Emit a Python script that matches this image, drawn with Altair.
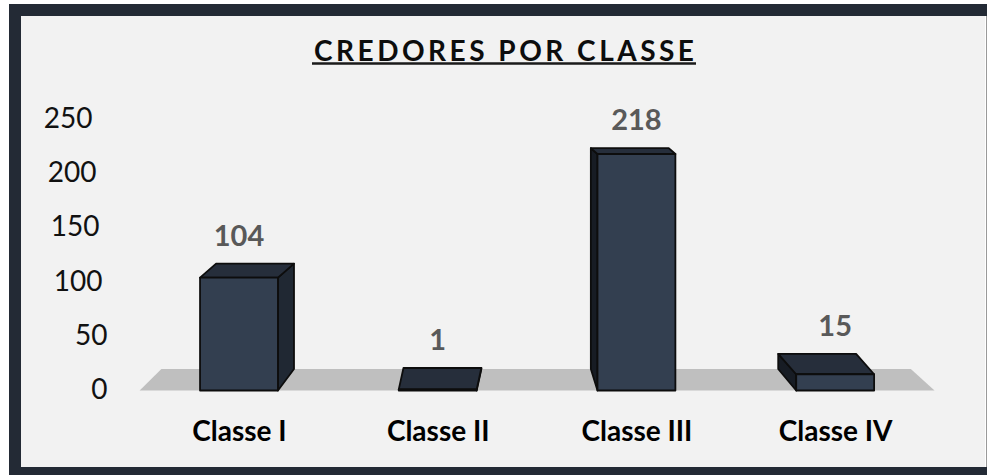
import json
import altair as alt
import pandas as pd

# ---------------- data ----------------
categories = ["Classe I", "Classe II", "Classe III", "Classe IV"]
values = [104, 1, 218, 15]
y_ticks = [0, 50, 100, 150, 200, 250]
title_text = "CREDORES POR CLASSE"

# ---------------- style constants (3D look) ----------------
HALF_W = 0.196          # half bar width in category units
VANISH_U = 1.914        # horizontal vanishing point (category units)
DX_K = -0.0571          # horizontal depth factor
DY_K = 0.066            # vertical depth factor
DY_REF = 300.0

FRONT = "#333F50"
TOP = "#262E3B"
SIDE_R = "#202833"
SIDE_L = "#171C24"
EDGE = "#0D0D0D"
FRAME = "#232A35"


def slices(poly):
    xs = sorted(set(round(p[0], 9) for p in poly))
    rows = []
    n = len(poly)
    for x in xs:
        ys = []
        for k in range(n):
            (x1, y1), (x2, y2) = poly[k], poly[(k + 1) % n]
            if abs(x1 - x2) < 1e-9:
                if abs(x - x1) < 1e-7:
                    ys += [y1, y2]
            elif min(x1, x2) - 1e-7 <= x <= max(x1, x2) + 1e-7:
                t = (x - x1) / (x2 - x1)
                ys.append(y1 + t * (y2 - y1))
        rows.append((x, min(ys), max(ys)))
    return rows


face_rows = {"side": [], "top": [], "front": []}
label_rows = []
for i, (cat, v) in enumerate(zip(categories, values)):
    c = i + 0.5
    xl, xr = c - HALF_W, c + HALF_W
    dx = DX_K * (c - VANISH_U)
    dyv = DY_K * (DY_REF - v)
    dy0 = DY_K * DY_REF
    top = [(xl, v), (xr, v), (xr + dx, v + dyv), (xl + dx, v + dyv)]
    if dx > 0:
        side = [(xr, 0), (xr, v), (xr + dx, v + dyv), (xr + dx, dy0)]
        sshade = "side_r"
    else:
        side = [(xl, 0), (xl, v), (xl + dx, v + dyv), (xl + dx, dy0)]
        sshade = "side_l"
    front = [(xl, 0), (xr, 0), (xr, v), (xl, v)]
    for name, poly, shade in (("side", side, sshade), ("top", top, "top"), ("front", front, "front")):
        for x, y0, y1 in slices(poly):
            face_rows[name].append({"key": f"{name}{i}", "shade": shade, "x": x, "y0": y0, "y1": y1})
    label_rows.append({"cat": cat, "value": v, "x": c, "y0": v + dyv, "label": str(v)})

n = len(categories)
dy0 = DY_K * DY_REF
floor_poly = [(0, 0), (n, 0), (n + DX_K * (n - VANISH_U), dy0), (DX_K * (0 - VANISH_U), dy0)]
floor_df = pd.DataFrame([{"key": "floor", "x": x, "y0": a, "y1": b} for x, a, b in slices(floor_poly)])
side_df = pd.DataFrame(face_rows["side"])
top_df = pd.DataFrame(face_rows["top"])
front_df = pd.DataFrame(face_rows["front"])
label_df = pd.DataFrame(label_rows)

shade_scale = alt.Scale(domain=["front", "top", "side_r", "side_l"], range=[FRONT, TOP, SIDE_R, SIDE_L])

x_scale = alt.Scale(domain=[-0.597, 4.254], nice=False, zero=False)
y_scale = alt.Scale(domain=[-70.5, 345.2], nice=False, zero=False)

label_expr = json.dumps(categories) + "[floor(datum.value)]"

x_axis = alt.Axis(values=[i + 0.5 for i in range(n)], labelExpr=label_expr, orient="bottom",
                  offset=-55, ticks=False, domain=False, grid=False, labelPadding=20,
                  labelFontSize=28, labelFont="Lato", labelFontWeight="bold", labelColor="#000000",
                  labelBaseline="middle", labelFlush=False, labelOverlap=False, title=None)

# perspective stagger of the value-axis labels
y_label_padding = {
    "condition": [
        {"test": "datum.value >= 250", "value": 15},
        {"test": "datum.value >= 200", "value": 11},
        {"test": "datum.value >= 150", "value": 8},
        {"test": "datum.value >= 100", "value": 5},
    ],
    "value": 0,
}
y_axis = alt.Axis(values=y_ticks, orient="left", offset=-86, ticks=False, domain=False, grid=False,
                  labelPadding=y_label_padding, labelFontSize=28, labelFont="Lato", labelColor="#111111",
                  labelAlign="right", labelBaseline="middle", labelFlush=False, labelOverlap=False,
                  title=None)

X = alt.X("x:Q", scale=x_scale, axis=x_axis)
Y = alt.Y("y0:Q", scale=y_scale, axis=y_axis)

floor = alt.Chart(floor_df).mark_area(color="#BFBFBF").encode(x=X, y=Y, y2="y1:Q")


def faces(df):
    return alt.Chart(df).mark_area(stroke=EDGE, strokeWidth=1.8, strokeJoin="round").encode(
        x=X, y=Y, y2="y1:Q",
        detail="key:N",
        fill=alt.Fill("shade:N", scale=shade_scale, legend=None),
    )


labels = alt.Chart(label_df).mark_text(
    font="Lato", fontSize=29, fontWeight="bold", color="#595959", baseline="middle", dy=-27
).encode(x=X, y=Y, text="label:N")

one = pd.DataFrame({"k": [0]})
spaced_title = "\u2009".join(list(title_text))
title_mark = alt.Chart(one).mark_text(
    font="Lato", fontSize=28, fontWeight="bold", color="#0D0D0D", baseline="alphabetic", align="center"
).encode(x=alt.value(483), y=alt.value(45), text=alt.value(spaced_title))

underline = alt.Chart(one).mark_rule(color="#1A1A1A", strokeWidth=2.5).encode(
    x=alt.value(291), x2=alt.value(675), y=alt.value(47.5)
)

# decorative outer frame (left, top, bottom) and thin right edge
frame_left = alt.Chart(one).mark_rule(color=FRAME, strokeWidth=12).encode(
    x=alt.value(-6), y=alt.value(-12), y2=alt.value(465))
frame_top = alt.Chart(one).mark_rule(color=FRAME, strokeWidth=12).encode(
    y=alt.value(-6), x=alt.value(-12), x2=alt.value(970))
frame_bottom = alt.Chart(one).mark_rule(color=FRAME, strokeWidth=12).encode(
    y=alt.value(457), x=alt.value(-12), x2=alt.value(970))
frame_right = alt.Chart(one).mark_rule(color="#9A9A9A", strokeWidth=1).encode(
    x=alt.value(965.5), y=alt.value(0), y2=alt.value(451))

chart = alt.layer(
    floor, faces(side_df), faces(top_df), faces(front_df), labels, title_mark, underline,
    frame_left, frame_top, frame_bottom, frame_right,
).properties(
    width=964,
    height=451,
    padding={"left": 21, "top": 16, "right": 2, "bottom": 8},
    autosize=alt.AutoSizeParams(type="none"),
).configure(background="#FFFFFF").configure_view(fill="#F2F2F2", stroke=None)

chart.save("out.html", embed_options={"renderer": "svg", "actions": False})
